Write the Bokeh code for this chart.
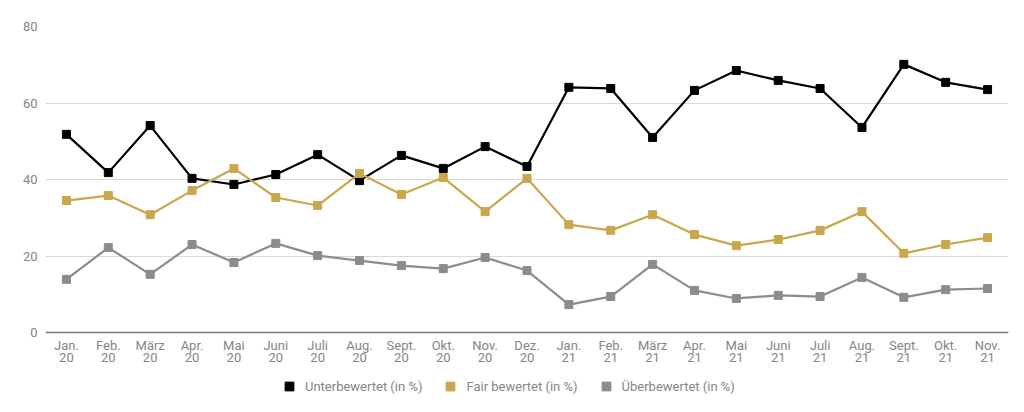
from bokeh.plotting import figure
from bokeh.models import FixedTicker, Legend, LegendItem, Range1d, Span, ColumnDataSource
from bokeh.core.properties import value
from bokeh.embed import file_html
from bokeh.resources import INLINE

months = ["Jan.\n20", "Feb.\n20", "März\n20", "Apr.\n20", "Mai\n20", "Juni\n20", "Juli\n20",
          "Aug.\n20", "Sept.\n20", "Okt.\n20", "Nov.\n20", "Dez.\n20",
          "Jan.\n21", "Feb.\n21", "März\n21", "Apr.\n21", "Mai\n21", "Juni\n21", "Juli\n21",
          "Aug.\n21", "Sept.\n21", "Okt.\n21", "Nov.\n21"]

unter = [51.8, 41.8, 54.1, 40.3, 38.7, 41.3, 46.5, 39.7, 46.3, 42.9, 48.6, 43.4,
         64.1, 63.8, 51.0, 63.3, 68.5, 65.9, 63.8, 53.6, 70.1, 65.4, 63.5]
fair = [34.5, 35.8, 30.8, 37.1, 42.9, 35.3, 33.2, 41.6, 36.1, 40.5, 31.6, 40.3,
        28.2, 26.7, 30.8, 25.6, 22.7, 24.3, 26.7, 31.6, 20.7, 23.0, 24.8]
ueber = [13.9, 22.2, 15.2, 23.0, 18.3, 23.3, 20.1, 18.8, 17.5, 16.7, 19.6, 16.2,
         7.3, 9.4, 17.8, 11.0, 8.9, 9.7, 9.4, 14.4, 9.2, 11.2, 11.5]

series_names = ["Unterbewertet (in %)", "Fair bewertet (in %)", "Überbewertet (in %)"]
series_colors = ["#000000", "#c9a74c", "#8c8c8c"]
y_ticks = [0, 20, 40, 60, 80]

x = list(range(len(months)))

FRAME_H = 386
PLOT_H = 306
y_top = 80
y_bottom = -(FRAME_H - PLOT_H) * y_top / PLOT_H

p = figure(frame_width=963, frame_height=FRAME_H, output_backend="svg", toolbar_location=None,
           x_axis_location=None,
           x_range=Range1d(-0.5, len(months) - 0.5), y_range=Range1d(y_bottom, y_top),
           min_border_left=45, min_border_top=26, min_border_right=15, min_border_bottom=0)
p.outline_line_color = None
p.background_fill_color = "white"

text_col = "#858585"

p.ygrid.grid_line_color = "#d9d9d9"
p.ygrid.ticker = FixedTicker(ticks=y_ticks)
p.xgrid.grid_line_color = None

axis_line = Span(location=0, dimension="width", line_color="#777777", line_width=1.5)
p.add_layout(axis_line)

items = []
for vals, name, col in zip([unter, fair, ueber], series_names, series_colors):
    p.line(x, vals, line_color=col, line_width=2.2)
    r = p.scatter(x, vals, marker="square", size=8, fill_color=col, line_color=col)
    items.append(LegendItem(label=name, renderers=[r]))

# month labels under the baseline
lab_src = ColumnDataSource(dict(x=x, y=[0] * len(x), t=months))
p.text(x="x", y="y", text="t", source=lab_src, text_align="center", text_baseline="top",
       y_offset=5, text_font=value("Roboto"), text_font_size="13px",
       text_color=text_col, text_line_height=0.85)

p.yaxis.ticker = FixedTicker(ticks=y_ticks)
p.yaxis.axis_line_color = None
p.yaxis.major_tick_line_color = None
p.yaxis.minor_tick_line_color = None
p.yaxis.major_tick_out = 0
p.yaxis.major_tick_in = 0
p.yaxis.major_label_text_color = text_col
p.yaxis.major_label_text_font = "Roboto"
p.yaxis.major_label_text_font_size = "13px"
p.yaxis.major_label_standoff = 8

legend = Legend(items=items, orientation="horizontal", location=(233, 15))
legend.label_text_font = "Roboto"
legend.label_text_font_size = "13px"
legend.label_text_color = text_col
legend.border_line_color = None
legend.background_fill_alpha = 0
legend.glyph_width = 22
legend.glyph_height = 22
legend.spacing = 17
legend.label_standoff = 5
legend.margin = 0
legend.padding = 2
p.add_layout(legend, "center")

open("out.html", "w").write(file_html(p, INLINE))
